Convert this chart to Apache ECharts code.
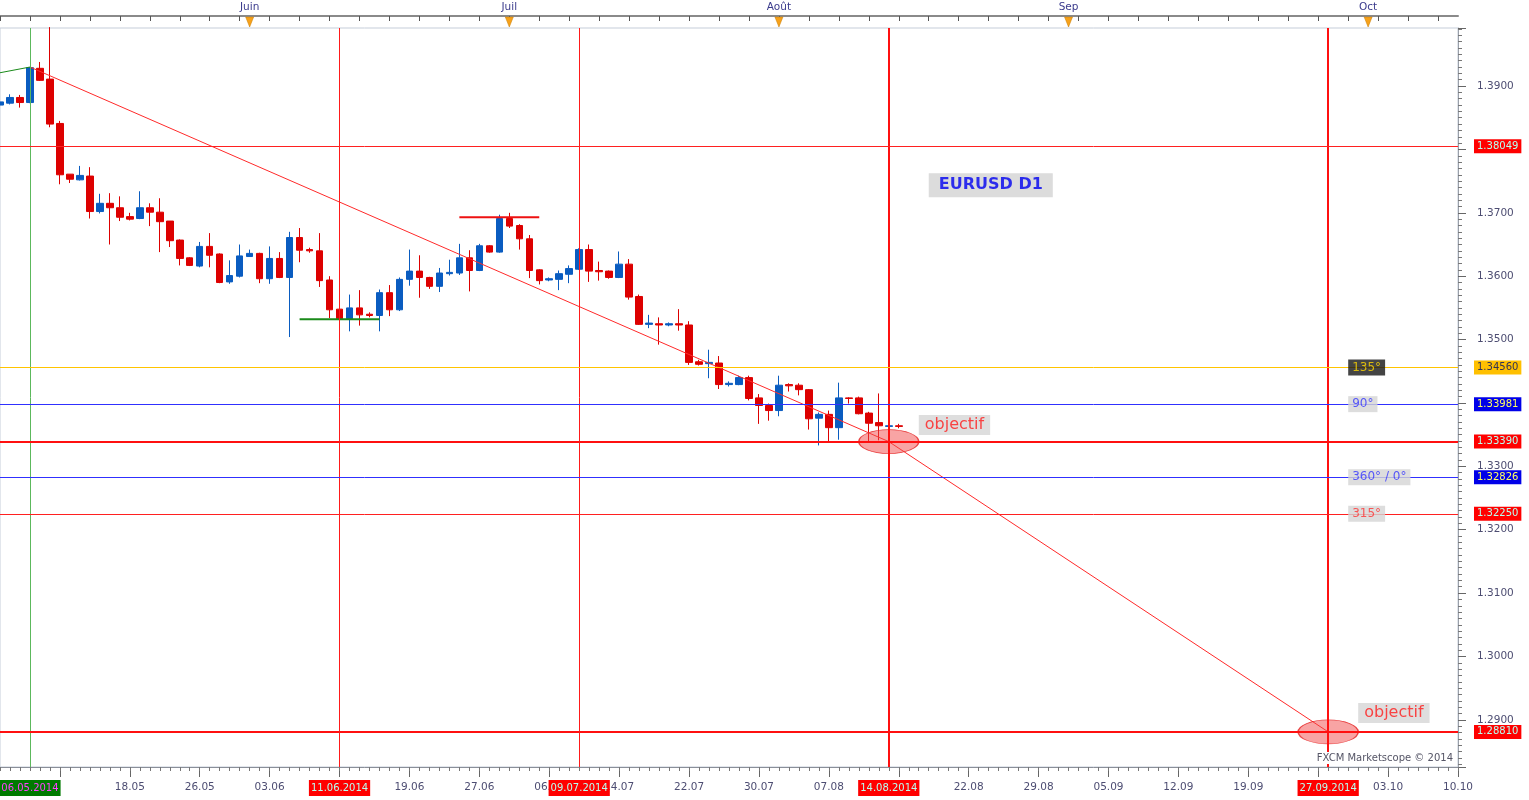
<!DOCTYPE html>
<html><head><meta charset="utf-8">
<script src="https://cdn.jsdelivr.net/npm/echarts@6/dist/echarts.min.js"></script>
<style>html,body{margin:0;padding:0;background:#fff}#c{width:1529px;height:800px}</style>
</head><body><div id="c"></div>
<script>
// ---- categories (trading days, then calendar days of the projection) ----
const pastDates = ['02.05','04.05','05.05','06.05','07.05','08.05','09.05','11.05','12.05','13.05','14.05','15.05','16.05','18.05','19.05','20.05','21.05','22.05','23.05','25.05','26.05','27.05','28.05','29.05','30.05',
'01.06','02.06','03.06','04.06','05.06','06.06','08.06','09.06','10.06','11.06','12.06','13.06','15.06','16.06','17.06','18.06','19.06','20.06','22.06','23.06','24.06','25.06','26.06','27.06','29.06','30.06',
'01.07','02.07','03.07','04.07','06.07','07.07','08.07','09.07','10.07','11.07','13.07','14.07','15.07','16.07','17.07','18.07','20.07','21.07','22.07','23.07','24.07','25.07','27.07','28.07','29.07','30.07','31.07',
'01.08','03.08','04.08','05.08','06.08','07.08','08.08','10.08','11.08','12.08','13.08','14.08','15.08'];
const futureDates = ['16.08','17.08','18.08','19.08','20.08','21.08','22.08','23.08','24.08','25.08','26.08','27.08','28.08','29.08','30.08','31.08',
'01.09','02.09','03.09','04.09','05.09','06.09','07.09','08.09','09.09','10.09','11.09','12.09','13.09','14.09','15.09','16.09','17.09','18.09','19.09','20.09','21.09','22.09','23.09','24.09','25.09','26.09','27.09','28.09','29.09','30.09',
'01.10','02.10','03.10','04.10','05.10','06.10','07.10','08.10','09.10','10.10'];

// ---- candles [open, close, low, high] ----
const candles = [
[1.3870,1.3875,1.3868,1.3876],[1.3873,1.3882,1.3871,1.3887],[1.3882,1.3874,1.3866,1.3886],[1.3874,1.3929,1.3873,1.3930],
[1.3928,1.3909,1.3908,1.3938],[1.3911,1.3840,1.3835,1.3993],[1.3841,1.3760,1.3745,1.3845],[1.3761,1.3753,1.3747,1.3761],
[1.3752,1.3759,1.3751,1.3774],[1.3758,1.3702,1.3691,1.3772],[1.3702,1.3715,1.3699,1.3730],[1.3715,1.3708,1.3650,1.3731],
[1.3708,1.3693,1.3687,1.3726],[1.3694,1.3690,1.3688,1.3700],[1.3691,1.3708,1.3690,1.3734],[1.3708,1.3701,1.3679,1.3715],
[1.3701,1.3686,1.3638,1.3723],[1.3687,1.3656,1.3646,1.3687],[1.3657,1.3628,1.3617,1.3658],[1.3629,1.3617,1.3616,1.3630],
[1.3616,1.3647,1.3614,1.3654],[1.3647,1.3633,1.3614,1.3668],[1.3635,1.3590,1.3589,1.3636],[1.3591,1.3601,1.3588,1.3625],
[1.3600,1.3632,1.3598,1.3650],[1.3631,1.3636,1.3631,1.3642],[1.3636,1.3596,1.3589,1.3637],[1.3596,1.3628,1.3588,1.3647],
[1.3628,1.3598,1.3597,1.3638],[1.3598,1.3661,1.3504,1.3670],[1.3661,1.3641,1.3622,1.3676],[1.3642,1.3640,1.3637,1.3645],
[1.3640,1.3593,1.3583,1.3668],[1.3594,1.3547,1.3534,1.3600],[1.3548,1.3533,1.3531,1.3549],[1.3533,1.3550,1.3513,1.3571],
[1.3550,1.3539,1.3522,1.3578],[1.3540,1.3538,1.3535,1.3543],[1.3538,1.3574,1.3513,1.3579],[1.3574,1.3547,1.3537,1.3586],
[1.3547,1.3595,1.3545,1.3598],[1.3595,1.3608,1.3585,1.3642],[1.3608,1.3598,1.3566,1.3633],[1.3598,1.3584,1.3580,1.3599],
[1.3584,1.3605,1.3575,1.3613],[1.3604,1.3606,1.3601,1.3626],[1.3605,1.3629,1.3602,1.3651],[1.3629,1.3609,1.3576,1.3641],
[1.3609,1.3648,1.3608,1.3651],[1.3648,1.3638,1.3637,1.3649],[1.3638,1.3691,1.3637,1.3697],[1.3691,1.3679,1.3676,1.3700],
[1.3680,1.3659,1.3642,1.3682],[1.3659,1.3609,1.3597,1.3665],[1.3610,1.3593,1.3587,1.3611],[1.3594,1.3596,1.3592,1.3598],
[1.3595,1.3604,1.3578,1.3609],[1.3603,1.3612,1.3589,1.3617],[1.3611,1.3642,1.3610,1.3644],[1.3642,1.3608,1.3591,1.3650],
[1.3609,1.3607,1.3593,1.3623],[1.3608,1.3598,1.3596,1.3609],[1.3598,1.3619,1.3597,1.3639],[1.3619,1.3567,1.3563,1.3627],
[1.3568,1.3524,1.3523,1.3571],[1.3524,1.3526,1.3518,1.3539],[1.3525,1.3523,1.3492,1.3535],[1.3523,1.3525,1.3521,1.3527],
[1.3525,1.3523,1.3514,1.3548],[1.3523,1.3464,1.3460,1.3529],[1.3465,1.3461,1.3459,1.3468],[1.3462,1.3464,1.3439,1.3484],
[1.3463,1.3429,1.3422,1.3474],[1.3429,1.3431,1.3426,1.3434],[1.3429,1.3440,1.3428,1.3443],[1.3440,1.3407,1.3404,1.3443],
[1.3408,1.3396,1.3367,1.3414],[1.3396,1.3388,1.3372,1.3399],[1.3388,1.3428,1.3379,1.3443],[1.3429,1.3427,1.3418,1.3431],
[1.3428,1.3421,1.3412,1.3431],[1.3421,1.3375,1.3358,1.3422],[1.3376,1.3382,1.3333,1.3385],[1.3382,1.3361,1.3338,1.3388],
[1.3361,1.3408,1.3342,1.3432],[1.3408,1.3407,1.3399,1.3409],[1.3408,1.3383,1.3382,1.3410],[1.3384,1.3368,1.3338,1.3386],
[1.3369,1.3364,1.3341,1.3415],[1.3363,1.3364,1.3362,1.3365],[1.3364,1.3363,1.3360,1.3367]];

// ---- axis ticks / labels ----
const tickDates  = ['09.05','18.05','26.05','03.06','11.06','19.06','27.06','06.07','14.07','22.07','30.07','07.08','15.08','22.08','29.08','05.09','12.09','19.09','26.09','03.10','10.10'];
const labelDates = ['18.05','26.05','03.06','11.06','19.06','27.06','06.07','14.07','22.07','30.07','07.08','15.08','22.08','29.08','05.09','12.09','19.09','26.09','03.10','10.10'];
const monthStarts = ['01.06','01.07','01.08','01.09','01.10'];
const monthNames  = ['Juin','Juil','Août','Sep','Oct'];
const yMin = 1.28256, yMax = 1.39916;

// ---- vertical event lines ----
const eventDates  = ['06.05','11.06','09.07','14.08','27.09'];
const eventLabels = ['06.05.2014','11.06.2014','09.07.2014','14.08.2014','27.09.2014'];

// ---- horizontal levels ----
const levelValues = [1.38049, 1.34560, 1.33981, 1.33390, 1.32826, 1.32250, 1.28810];
const lastPrice = 1.33635;

// ---- drawn lines ----
const greenLead   = [['02.05',1.3921],['06.05',1.3930]];
const trendLine   = [['06.05',1.3930],['14.08',1.3339]];
const projection  = [['14.08',1.3339],['27.09',1.2881]];
const supportLine = [['06.06',1.3532],['16.06',1.3532]];
const resistLine  = [['25.06',1.3693],['04.07',1.3693]];
const targets     = [['14.08',1.3339],['27.09',1.2881]];

// ---- text annotations ----
const annoText  = ['EURUSD D1','objectif','objectif','135°','90°','360° / 0°','315°'];
const annoDates = ['18.08','17.08','30.09','29.09','29.09','29.09','29.09'];
const annoPrice = [1.37436, 1.33652, 1.29109, 1.34560, 1.33981, 1.32826, 1.32250];

// ================= build =================
const FONT = 'DejaVu Sans';
const allDates = pastDates.concat(futureDates);
const tickSet = new Set(tickDates), labelSet = new Set(labelDates);
const monthMap = {}; monthStarts.forEach((d,i)=>monthMap[d]=monthNames[i]);

const eventStyles = [
  {line:{color:'#5cb85c',width:1}, bg:'#007a00', fg:'#ff40ff'},
  {line:{color:'#ff1a1a',width:1}, bg:'#ff0000', fg:'#b8fff0'},
  {line:{color:'#ff1a1a',width:1}, bg:'#ff0000', fg:'#b8fff0'},
  {line:{color:'#ff1010',width:2}, bg:'#ff0000', fg:'#b8fff0'},
  {line:{color:'#ff1010',width:2}, bg:'#ff0000', fg:'#b8fff0'}
];
const levelStyles = [
  {line:{color:'#ff2020',width:1}, bg:'#ff0000', fg:'#b8fff0'},
  {line:{color:'#ffc400',width:1}, bg:'#ffc000', fg:'#333355'},
  {line:{color:'#3030ff',width:1}, bg:'#0000e8', fg:'#ffff60'},
  {line:{color:'#ff1010',width:2}, bg:'#ff0000', fg:'#b8fff0'},
  {line:{color:'#3030ff',width:1}, bg:'#0000e8', fg:'#ffff60'},
  {line:{color:'#ff2020',width:1}, bg:'#ff0000', fg:'#b8fff0'},
  {line:{color:'#ff1010',width:2}, bg:'#ff0000', fg:'#b8fff0'}
];
const annoStyles = [
  {color:'#0000f0', fontSize:16, fontWeight:'bold', backgroundColor:'#d3d3d3', padding:[4,10]},
  {color:'#ff1a1a', fontSize:16, backgroundColor:'#d6d6d6', padding:[2,6]},
  {color:'#ff1a1a', fontSize:16, backgroundColor:'#d6d6d6', padding:[2,6]},
  {color:'#ffd700', fontSize:12, backgroundColor:'#151515', padding:[2,4]},
  {color:'#3333ff', fontSize:12, backgroundColor:'#d4d4d4', padding:[2,4]},
  {color:'#3333ff', fontSize:12, backgroundColor:'#d4d4d4', padding:[2,4]},
  {color:'#ff3333', fontSize:12, backgroundColor:'#d4d4d4', padding:[2,4]}
];

const markData = [];
eventDates.forEach((d,i)=>{
  const s = eventStyles[i];
  markData.push({xAxis:d, lineStyle:Object.assign({type:'solid'}, s.line),
    label:{show:true, position:'start', distance:13, formatter:eventLabels[i], backgroundColor:s.bg, color:s.fg,
      fontFamily:FONT, fontSize:10, padding:[2,2], lineHeight:12}});
});
levelValues.forEach((v,i)=>{
  const s = levelStyles[i];
  markData.push({yAxis:v, lineStyle:Object.assign({type:'solid'}, s.line),
    label:{show:true, position:'end', distance:16, formatter:v.toFixed(5), backgroundColor:s.bg, color:s.fg,
      fontFamily:FONT, fontSize:10, padding:[1,3], lineHeight:12}});
});
markData.push({yAxis:lastPrice, lineStyle:{type:'solid', opacity:0},
  label:{show:true, position:'end', distance:16, formatter:lastPrice.toFixed(5), backgroundColor:'#66ccff', color:'#222244',
    fontFamily:FONT, fontSize:10, padding:[1,3], lineHeight:12}});

const annoData = annoText.map((t,i)=>({
  value:[annoDates[i], annoPrice[i]],
  label:Object.assign({show:true, position:'right', distance:0, formatter:t, fontFamily:FONT}, annoStyles[i])
}));

function lineSeries(data, color, width, extra){
  return Object.assign({type:'line', data:data, symbol:'none', silent:true, z:3,
    lineStyle:{color:color, width:width}, xAxisIndex:0, yAxisIndex:0}, extra||{});
}

const option = {
  animation:false,
  backgroundColor:'#ffffff',
  textStyle:{fontFamily:FONT},
  grid:{left:0, right:71, top:28, bottom:33, show:true, borderColor:'#c5cdd9', borderWidth:1, backgroundColor:'#ffffff'},
  xAxis:[
    {type:'category', data:allDates, position:'bottom', boundaryGap:false,
     axisLine:{onZero:false, lineStyle:{color:'#8a8f99'}},
     axisTick:{interval:(i,v)=>tickSet.has(v), length:10, lineStyle:{color:'#666'}},
     axisLabel:{interval:(i,v)=>labelSet.has(v), color:'#4d4d72', fontSize:10.5, margin:15, fontFamily:FONT},
     splitLine:{show:false}},
    {type:'category', data:allDates, position:'top', offset:12, boundaryGap:false,
     axisLine:{onZero:false, lineStyle:{color:'#8a8a8a', width:2}},
     axisTick:{inside:true, interval:2, length:5, lineStyle:{color:'#555'}},
     axisLabel:{interval:(i,v)=>v in monthMap, formatter:v=>monthMap[v]||'', color:'#3a3a8c', fontSize:10.5, margin:3, fontFamily:FONT},
     splitLine:{show:false}},
    {type:'category', data:allDates, position:'bottom', boundaryGap:false,
     axisLine:{show:false, onZero:false},
     axisTick:{interval:0, length:4, lineStyle:{color:'#777'}},
     axisLabel:{show:false}, splitLine:{show:false}}
  ],
  yAxis:[{type:'value', position:'right', min:yMin, max:yMax, splitNumber:12, scale:true,
    axisLine:{show:true, lineStyle:{color:'#9aa0aa'}},
    axisTick:{show:true, length:8, lineStyle:{color:'#666'}},
    minorTick:{show:true, splitNumber:10, length:4, lineStyle:{color:'#777'}},
    splitLine:{show:false},
    axisLabel:{formatter:v=>v.toFixed(4), showMinLabel:false, showMaxLabel:false, color:'#4d4d72', fontSize:10.5, margin:19, fontFamily:FONT}
  }],
  series:[
    {type:'candlestick', name:'EURUSD', data:candles, xAxisIndex:0, yAxisIndex:0, barWidth:7, z:2, silent:true,
     itemStyle:{color:'#0a5cc0', color0:'#dd0000', borderColor:'#0a5cc0', borderColor0:'#dd0000', borderWidth:1}},
    lineSeries(trendLine, '#ff2a2a', 1, {markLine:{symbol:['none','none'], precision:6, silent:true, animation:false, data:markData}}),
    lineSeries(projection, '#ff2a2a', 1),
    lineSeries(greenLead, '#1a8a1a', 1),
    lineSeries(supportLine, '#1a8a1a', 2),
    lineSeries(resistLine, '#ee1111', 2),
    {type:'scatter', data:targets, symbol:'circle', symbolSize:[60,24], silent:true, z:4,
     itemStyle:{color:'rgba(240,70,70,0.62)', borderColor:'#e52020', borderWidth:1}},
    {type:'scatter', data:annoData, symbolSize:0.1, silent:true, z:5, itemStyle:{color:'transparent'}},
    {type:'custom', data:monthStarts.map(d=>[d, yMax]), silent:true, clip:false, z:6,
     renderItem:function(params, api){
       const p = api.coord([api.value(0), yMax]);
       return {type:'polygon', shape:{points:[[p[0]-4,p[1]-11],[p[0]+4,p[1]-11],[p[0],p[1]-1]]},
               style:{fill:'#f7a21b', stroke:'#c77a00', lineWidth:0.5}};
     }}
  ],
  graphic:[{type:'text', right:73, bottom:36, z:10,
    style:{text:'FXCM Marketscope © 2014', fill:'#555566', font:'10px "DejaVu Sans"', backgroundColor:'#ffffff', padding:[1,3]}}]
};
const chart = echarts.init(document.getElementById('c'));
chart.setOption(option);
</script>
</body></html>
